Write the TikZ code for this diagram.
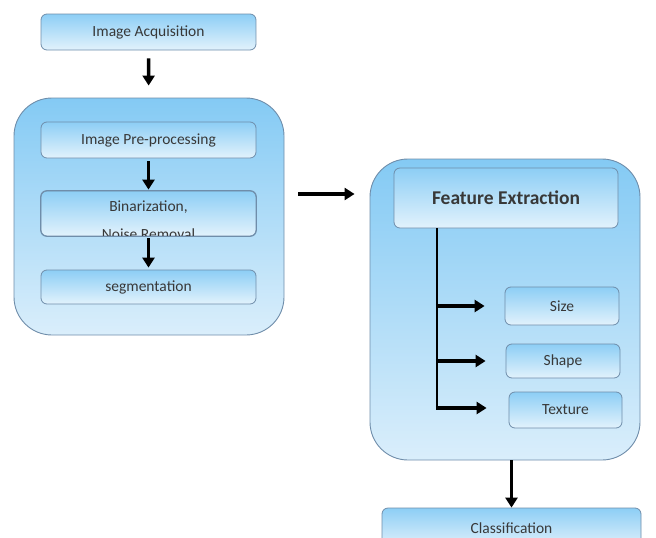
\documentclass[tikz,border=0pt]{standalone}
\usepackage{fontspec}
\setmainfont{Carlito}
\usetikzlibrary{arrows.meta}
\definecolor{boxtop}{HTML}{8DCEF5}
\definecolor{boxbot}{HTML}{E2F2FC}
\definecolor{grptop}{HTML}{84CAF4}
\definecolor{grpbot}{HTML}{DAEEFB}
\definecolor{edge}{HTML}{6F8DAA}
\definecolor{txt}{HTML}{383838}
\tikzset{
  box/.style={draw=edge, line width=0.8pt, rounded corners=6pt, top color=boxtop, bottom color=boxbot,
    text=txt, font=\fontsize{15.5}{17}\selectfont, inner sep=0pt},
  group/.style={draw=edge, line width=0.9pt, rounded corners=38pt, top color=grptop, bottom color=grpbot},
  arr/.style={line width=3.5pt, -{Triangle[length=10pt,width=12pt]}},
  trunk/.style={line width=2.5pt}
}
\begin{document}
\begin{tikzpicture}[x=1pt,y=-1pt]
\useasboundingbox (0,0) rectangle (656,538);
\node[box, minimum width=215pt, minimum height=36pt] (acq) at (148.5,32) {Image Acquisition};
\node[group, minimum width=270pt, minimum height=237pt] (prepgrp) at (149,216.5) {};
\node[box, minimum width=215pt, minimum height=36pt] (pre) at (148.5,140) {Image Pre-processing};
\node[box, minimum width=215pt, minimum height=45pt] (bin) at (148.5,213.5) {};
\begin{scope}
\clip[rounded corners=6pt] (bin.south west) rectangle (bin.north east);
\node[text=txt, font=\fontsize{15.5}{17}\selectfont] (binA) at (148.5,207) {Binarization,};
\node[text=txt, font=\fontsize{15.5}{17}\selectfont] (binB) at (148.5,234) {Noise Removal};
\end{scope}
\draw[edge, line width=0.8pt, rounded corners=6pt] (bin.south west) rectangle (bin.north east);
\node[box, minimum width=215pt, minimum height=34pt] (seg) at (148.5,287) {segmentation};

\node[group, minimum width=270pt, minimum height=301pt] (featgrp) at (505,309.5) {};
\node[box, minimum width=224pt, minimum height=60pt, font=\fontsize{19.5}{21}\selectfont\bfseries] (fe) at (506,198) {Feature Extraction};
\node[box, minimum width=114pt, minimum height=38pt] (size) at (562,306) {Size};
\node[box, minimum width=114pt, minimum height=34pt] (shape) at (563,361) {Shape};
\node[box, minimum width=113pt, minimum height=36pt] (texture) at (565.5,410) {Texture};
\node[box, minimum width=259pt, minimum height=40pt] (class) at (511.5,528) {Classification};

\draw[arr, shorten <=8pt, shorten >=12pt] (acq) -- (prepgrp);
\draw[arr, shorten <=3pt, shorten >=1pt] (pre) -- (bin);
\draw[arr, shorten <=2pt, shorten >=2pt] (bin) -- (seg);
\draw[arr, shorten <=14pt, shorten >=15pt] ([yshift=4pt]prepgrp.east |- fe) -- ([yshift=4pt]featgrp.west |- fe);

\coordinate (tr) at (437,408);
\draw[trunk] (tr |- fe.south) -- (tr);
\draw[arr, shorten >=20pt] ([xshift=-1.25pt]tr |- size) -- (size.west);
\draw[arr, shorten >=20pt] ([xshift=-1.25pt]tr |- shape) -- (shape.west);
\draw[arr, shorten >=22pt] ([xshift=-1.25pt]tr) -- (texture.west |- tr);
\draw[arr] (featgrp.south -| class) -- (class.north);
\end{tikzpicture}
\end{document}
